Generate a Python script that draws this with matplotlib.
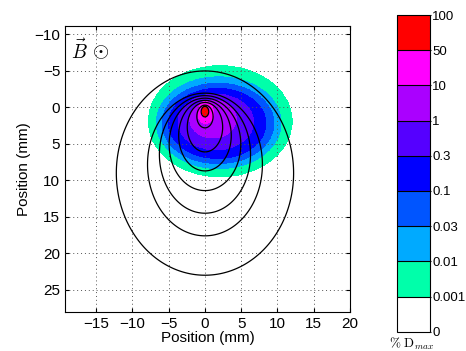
import numpy as np
import matplotlib
matplotlib.use('Agg')
import matplotlib.pyplot as plt
from matplotlib.colors import ListedColormap, BoundaryNorm
from matplotlib.cm import ScalarMappable

plt.rcParams['font.family'] = ['Liberation Sans', 'DejaVu Sans']
plt.rcParams['mathtext.fontset'] = 'cm'

# dose bands (% of D_max) and their colours
level_labels = ['0', '0.001', '0.01', '0.03', '0.1', '0.3', '1', '10', '50', '100']
band_colors = ['#ffffff', '#00ffaa', '#00aaff', '#0055ff', '#0000ff',
               '#5500ff', '#aa00ff', '#ff00ff', '#ff0000']

# iso-dose regions, one ellipse per level from 0.001 up to 50 (mm)
region_cx = [2.1, 1.9, 1.8, 1.7, 1.5, 1.1, 0.1, 0.02]
region_cy = [1.9, 2.1, 2.2, 2.2, 2.0, 1.6, 0.7, 0.5]
region_ax = [9.9, 8.6, 7.7, 6.7, 5.2, 3.2, 1.05, 0.33]
region_ay = [7.6, 6.3, 5.5, 4.8, 3.8, 2.6, 1.5, 0.75]

# black iso-lines of the second field: lowest point (mm), eccentricity, width factor
line_bottom = [1.3, 2.8, 6.1, 8.7, 11.4, 14.5, 17.6, 23.0]
line_ecc = [0.8, 0.8, 0.8, 0.8, 0.8, 0.8, 0.8, 0.643]
line_width = [1.2, 1.2, 1.2, 1.25, 1.3, 1.3, 1.35, 1.14]

x = np.linspace(-19.3, 20, 800)
y = np.linspace(-11.2, 28, 800)
X, Y = np.meshgrid(x, y)

band = np.zeros_like(X)
for k in range(len(region_cx)):
    inside = ((X - region_cx[k]) / region_ax[k])**2 + ((Y - region_cy[k]) / region_ay[k])**2 <= 1
    band = np.where(inside, np.maximum(band, k + 1), band)

fig = plt.figure(figsize=(4.66, 3.51), dpi=100)
ax = fig.add_axes([65 / 466, 1 - 311.7 / 351, 285 / 466, 286 / 351])

cmap = ListedColormap(band_colors)
norm = BoundaryNorm(np.arange(len(band_colors) + 1) - 0.5, cmap.N)
ax.contourf(X, Y, band, levels=np.arange(len(band_colors)) + 0.5,
            colors=band_colors[1:], zorder=1)

for b, e, w in zip(line_bottom, line_ecc, line_width):
    field = np.sqrt((X / w)**2 + Y**2) - e * Y
    ax.contour(X, Y, field, levels=[b * (1 - e)], colors='black',
               linewidths=0.9, zorder=3)

ax.set_xlim(-19.3, 20)
ax.set_ylim(28, -11.2)
ax.set_xticks(range(-15, 21, 5))
ax.set_yticks(range(-10, 26, 5))
ax.grid(True, linestyle=(0, (1, 3)), color='#555555', linewidth=0.7, zorder=2)
ax.set_axisbelow(False)
ax.tick_params(direction='in', top=True, right=True, labelsize=11, length=3)
ax.set_xlabel('Position (mm)', fontsize=11, labelpad=0)
ax.set_ylabel('Position (mm)', fontsize=11, labelpad=2)
for s in ax.spines.values():
    s.set_linewidth(0.8)

ax.text(-17.3, -7.8, r'$\vec{B}$', fontsize=14, ha='center', va='center', zorder=4)
ax.text(-14.4, -7.6, r'$\odot$', fontsize=15, ha='center', va='center', zorder=4)

cax = fig.add_axes([396.7 / 466, 1 - 331.7 / 351, 33.3 / 466, 316.7 / 351])
sm = ScalarMappable(norm=norm, cmap=cmap)
cb = fig.colorbar(sm, cax=cax, drawedges=True)
cb.set_ticks(np.arange(len(level_labels)) - 0.5)
cb.set_ticklabels(level_labels)
cb.outline.set_linewidth(0.8)
cb.dividers.set_linewidth(0.8)
cax.tick_params(labelsize=9.5, length=1, pad=0.5, direction='out')
cax.text(0.45, -0.012, r'$\%\ \mathrm{D}_{max}$', transform=cax.transAxes,
         ha='center', va='top', fontsize=9.5)

fig.savefig('out.png', dpi=100)
